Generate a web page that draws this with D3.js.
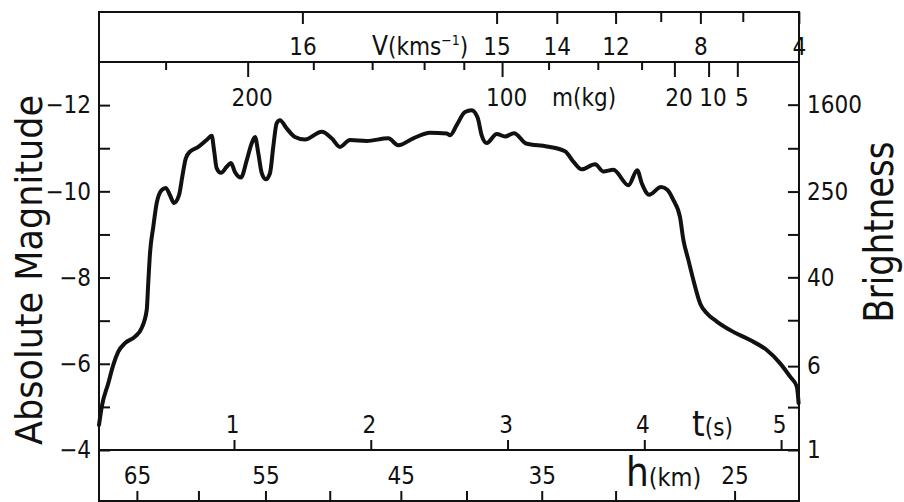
<!DOCTYPE html>
<html>
<head>
<meta charset="utf-8">
<script src="https://cdn.jsdelivr.net/npm/d3@7"></script>
<style>
body { margin: 0; background: #fff; }
svg { display: block; }
text { font-family: "DejaVu Sans Condensed", "Liberation Sans Narrow", "DejaVu Sans", sans-serif; fill: #111; }
</style>
</head>
<body>
<svg id="chart" width="904" height="502"></svg>
<script>
// light curve: time (s) and absolute magnitude
const curveTime = [0.013,0.033,0.081,0.117,0.154,0.203,0.276,0.325,0.362,0.373,0.386,0.410,0.435,0.471,0.501,0.532,0.561,0.598,0.622,0.647,0.678,0.739,0.800,0.837,0.854,0.873,0.905,0.947,0.978,1.007,1.051,1.093,1.129,1.154,1.178,1.203,1.232,1.263,1.287,1.312,1.336,1.385,1.446,1.519,1.641,1.714,1.775,1.848,1.970,2.128,2.201,2.311,2.433,2.555,2.580,2.629,2.689,2.738,2.781,2.811,2.848,2.921,2.982,3.048,3.135,3.287,3.420,3.481,3.543,3.640,3.701,3.774,3.884,3.948,3.982,4.035,4.123,4.170,4.212,4.261,4.286,4.322,4.359,4.408,4.457,4.530,4.651,4.773,4.895,4.993,5.066,5.115,5.128];
const curveMag = [-4.58,-5.00,-5.55,-5.97,-6.28,-6.48,-6.63,-6.83,-7.25,-7.87,-8.57,-9.18,-9.73,-10.03,-10.08,-9.91,-9.73,-9.91,-10.34,-10.76,-10.92,-11.03,-11.19,-11.29,-10.96,-10.54,-10.43,-10.57,-10.66,-10.45,-10.32,-10.72,-11.11,-11.26,-10.88,-10.42,-10.28,-10.42,-11.03,-11.58,-11.65,-11.46,-11.26,-11.20,-11.38,-11.23,-11.03,-11.19,-11.17,-11.23,-11.07,-11.23,-11.36,-11.34,-11.30,-11.54,-11.84,-11.88,-11.71,-11.30,-11.12,-11.33,-11.27,-11.35,-11.11,-11.04,-10.93,-10.69,-10.51,-10.63,-10.46,-10.50,-10.14,-10.49,-10.18,-9.92,-10.10,-10.03,-9.80,-9.40,-8.87,-8.41,-7.94,-7.40,-7.17,-6.98,-6.74,-6.55,-6.32,-6.01,-5.70,-5.47,-5.09];

const magTicks = [-12,-11,-10,-9,-8,-7,-6,-5,-4];
const brightTicks = [1,2.5,6,16,40,100,250,630,1600];
const brightLabels = [1,6,40,250,1600];
const velTicks = [16,15,14,12,10,8,6,4];
const velTimes = [1.50,2.92,3.36,3.79,4.12,4.41,4.72,5.13];
const velLabels = [16,15,14,12,8,4];
const massTicks = [220,200,180,160,140,120,100,80,60,40,20,10,5];
const massTimes = [0.50,1.10,1.58,2.01,2.39,2.68,2.96,3.30,3.66,3.98,4.22,4.47,4.68];
const massLabels = [200,100,20,10,5];
const timeTicks = [1,2,3,4,5];
const heightTicks = [65,60,55,50,45,40,35,30,25];
const heightTimes = [0.29,0.74,1.23,1.70,2.22,2.70,3.25,3.79,4.66];
const heightLabels = [65,55,45,35,25];

const frameL = 99, frameR = 799, frameT = 12, plotTop = 62, plotBottom = 450, frameB = 501;
const svg = d3.select("#chart");

const x = d3.scaleLinear().domain([0.013, 5.131]).range([frameL, frameR]);
const y = d3.scaleLinear().domain([-4, -13]).range([plotBottom, plotTop]);
const b = d3.scaleLog().domain([1, Math.pow(10, 3.6)]).range([plotBottom, plotTop]);
const v = d3.scaleLinear().domain(velTicks).range(velTimes.map(x));
const m = d3.scaleLinear().domain(massTicks).range(massTimes.map(x));
const h = d3.scaleLinear().domain(heightTicks).range(heightTimes.map(x));

function styleAxis(g, size) {
  g.select(".domain").remove();
  g.attr("font-size", size);
  g.selectAll("line").attr("stroke", "#111").attr("stroke-width", 2);
}

// frame
[frameT, plotTop, plotBottom, frameB].forEach(yy => {
  svg.append("line").attr("x1", frameL - 1).attr("x2", frameR + 1).attr("y1", yy).attr("y2", yy)
    .attr("stroke", "#111").attr("stroke-width", 2);
});
[frameL, frameR].forEach(xx => {
  svg.append("line").attr("x1", xx).attr("x2", xx).attr("y1", frameT - 1).attr("y2", 502)
    .attr("stroke", "#111").attr("stroke-width", 2);
});

// left magnitude axis
const gL = svg.append("g").attr("transform", `translate(${frameL},0)`)
  .call(d3.axisLeft(y).tickValues(magTicks).tickSizeInner(-11).tickSizeOuter(0).tickPadding(8)
    .tickFormat(d => d % 2 === 0 ? "\u2212" + Math.abs(d) : ""));
styleAxis(gL, 24);

// right brightness axis
const gR = svg.append("g").attr("transform", `translate(${frameR},0)`)
  .call(d3.axisRight(b).tickValues(brightTicks).tickSizeInner(-11).tickSizeOuter(0).tickPadding(8)
    .tickFormat(d => brightLabels.includes(d) ? d : ""));
styleAxis(gR, 24);

// velocity axis (top box)
const gV = svg.append("g").attr("transform", `translate(0,${frameT})`)
  .call(d3.axisBottom(v).tickValues(velTicks).tickSizeInner(12).tickSizeOuter(0).tickPadding(14)
    .tickFormat(d => velLabels.includes(d) ? d : ""));
styleAxis(gV, 24);
gV.selectAll(".tick").filter(d => !velLabels.includes(d)).select("line").attr("y2", 10);

// mass axis
const gM = svg.append("g").attr("transform", `translate(0,${plotTop})`)
  .call(d3.axisBottom(m).tickValues(massTicks).tickSizeInner(15).tickSizeOuter(0).tickPadding(12)
    .tickFormat(d => massLabels.includes(d) ? d : ""));
styleAxis(gM, 24);
gM.selectAll(".tick").filter(d => !massLabels.includes(d)).select("line").attr("y2", 8);
gM.selectAll(".tick text").attr("dx", 4);

// time axis
const gT = svg.append("g").attr("transform", `translate(0,${plotBottom})`)
  .call(d3.axisTop(x).tickValues(timeTicks).tickSizeInner(10).tickSizeOuter(0).tickPadding(7)
    .tickFormat(d3.format("d")));
styleAxis(gT, 24);
gT.selectAll(".tick text").attr("dx", -2);

// height axis (bottom box)
const gH = svg.append("g").attr("transform", `translate(0,${frameB})`)
  .call(d3.axisTop(h).tickValues(heightTicks).tickSizeInner(10).tickSizeOuter(0).tickPadding(7)
    .tickFormat(d => heightLabels.includes(d) ? d : ""));
styleAxis(gH, 24);

// light curve
const line = d3.line()
  .x(i => x(curveTime[i]))
  .y(i => y(curveMag[i]))
  .curve(d3.curveMonotoneX);
svg.append("path")
  .attr("d", line(d3.range(curveTime.length)))
  .attr("fill", "none").attr("stroke", "#111").attr("stroke-width", 4)
  .attr("stroke-linejoin", "round").attr("stroke-linecap", "round");

// axis names
const vt = svg.append("text").attr("x", 372).attr("y", 55).attr("font-size", 24);
vt.append("tspan").text("V").attr("font-size", 26);
vt.append("tspan").text("(kms");
vt.append("tspan").text("\u22121").attr("font-size", 14).attr("dy", -10);
vt.append("tspan").text(")").attr("dy", 10);

svg.append("text").attr("x", 552).attr("y", 106).attr("font-size", 24).text("m(kg)");

const tt = svg.append("text").attr("x", 692).attr("y", 436);
tt.append("tspan").text("t").attr("font-size", 36);
tt.append("tspan").text("(s)").attr("font-size", 24);

const ht = svg.append("text").attr("x", 626).attr("y", 486);
ht.append("tspan").text("h").attr("font-size", 40);
ht.append("tspan").text("(km)").attr("font-size", 25);

svg.append("text").attr("transform", "translate(42,270) rotate(-90)")
  .attr("text-anchor", "middle").attr("font-size", 38)
  .attr("textLength", 350).attr("lengthAdjust", "spacingAndGlyphs")
  .text("Absolute Magnitude");

svg.append("text").attr("transform", "translate(893,232) rotate(-90)")
  .attr("text-anchor", "middle").attr("font-size", 40)
  .attr("textLength", 181).attr("lengthAdjust", "spacingAndGlyphs")
  .text("Brightness");
</script>
</body>
</html>
